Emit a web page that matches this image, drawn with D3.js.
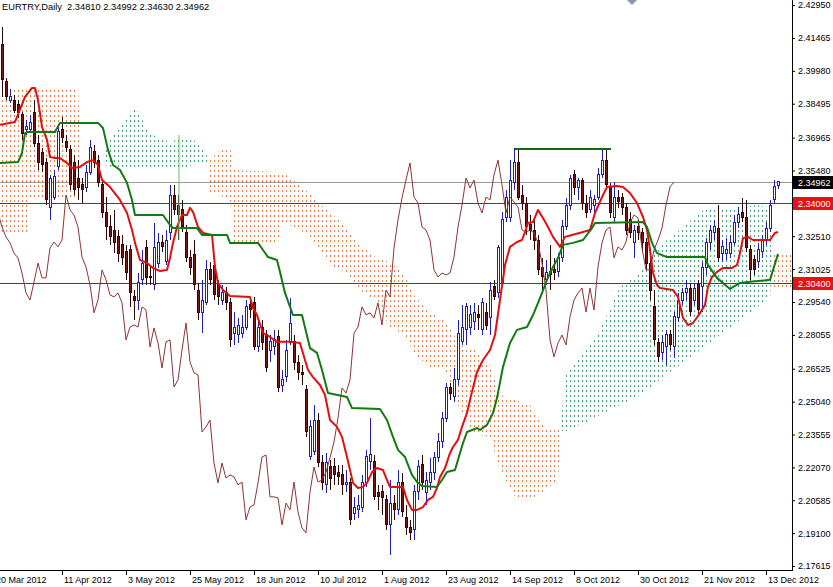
<!DOCTYPE html>
<html><head><meta charset="utf-8">
<script src="https://cdnjs.cloudflare.com/ajax/libs/d3/7.8.5/d3.min.js"></script>
<style>body{margin:0;background:#fff}svg{display:block}</style>
</head><body>
<svg id="c" width="833" height="587"></svg>
<script>
// ---- data (bar index 0 = 21 Mar 2012) ----
const open=[2.4137,2.4115,2.3948,2.3866,2.3866,2.3848,2.3799,2.3731,2.3731,2.3812,
2.3672,2.3627,2.3586,2.3383,2.3428,2.3564,2.3731,2.3677,2.3641,2.3586,
2.3514,2.3483,2.3469,2.3541,2.3632,2.3595,2.3483,2.3356,2.3293,2.3279,
2.3248,2.3212,2.3180,2.3189,2.2977,2.2963,2.3054,2.3198,2.3067,2.3031,
2.3130,2.3225,2.3135,2.3266,2.3437,2.3392,2.3370,2.3270,2.3157,2.3167,
2.3008,2.2905,2.2954,2.3099,2.3121,2.3031,2.2963,2.2995,2.2950,2.2814,
2.2805,2.2814,2.2841,2.2941,2.2954,2.2751,2.2837,2.2805,2.2737,2.2751,
2.2796,2.2579,2.2616,2.2769,2.2774,2.2683,2.2634,2.2557,2.2254,2.2277,
2.2421,2.2227,2.2128,2.2209,2.2209,2.2182,2.2173,2.2128,2.2137,2.2001,
2.2015,2.2028,2.2137,2.2232,2.2232,2.2092,2.2096,2.2060,2.1947,2.2046,
2.2015,2.2141,2.1979,2.1934,2.1925,2.2096,2.2218,2.2092,2.2141,2.2186,
2.2250,2.2322,2.2430,2.2566,2.2525,2.2602,2.2774,2.2828,2.2837,2.2864,
2.2896,2.2828,2.2905,2.2882,2.3022,2.2995,2.3040,2.3334,2.3334,2.3492,
2.3582,2.3437,2.3401,2.3302,2.3279,2.3234,2.3112,2.3054,2.3090,2.3099,
2.3090,2.3157,2.3293,2.3392,2.3528,2.3469,2.3505,2.3401,2.3370,2.3392,
2.3428,2.3528,2.3595,2.3469,2.3334,2.3428,2.3424,2.3379,2.3325,2.3221,
2.3293,2.3266,2.3225,2.3130,2.2932,2.2769,2.2724,2.2751,2.2805,2.2751,
2.2882,2.2963,2.2995,2.3017,2.2963,2.3031,2.3022,2.3112,2.3221,2.3266,
2.3284,2.3175,2.3175,2.3175,2.3225,2.3311,2.3356,2.3334,2.3189,2.3144,
2.3135,2.3180,2.3234,2.3288,2.3415,2.34810];
const high=[2.4160,2.4196,2.3966,2.3916,2.3889,2.3866,2.3812,2.3776,2.3799,2.3866,
2.3709,2.3650,2.3605,2.3528,2.3550,2.3745,2.3790,2.3709,2.3663,2.3618,
2.3595,2.3514,2.3573,2.3686,2.3663,2.3618,2.3505,2.3428,2.3347,2.3370,
2.3279,2.3257,2.3212,2.3212,2.3008,2.3085,2.3189,2.3234,2.3112,2.3311,
2.3266,2.3257,2.3279,2.3483,2.3483,2.3437,2.3415,2.3302,2.3189,2.3234,
2.3040,2.3054,2.3144,2.3135,2.3153,2.3054,2.3031,2.3022,2.2972,2.2909,
2.2882,2.2896,2.2963,2.2977,2.2977,2.2882,2.2873,2.2828,2.2805,2.2828,
2.2828,2.2647,2.2783,2.2972,2.2805,2.2715,2.2670,2.2579,2.2421,2.2489,
2.2453,2.2263,2.2272,2.2241,2.2250,2.2218,2.2218,2.2195,2.2159,2.2074,
2.2083,2.2173,2.2286,2.2430,2.2263,2.2128,2.2128,2.2083,2.2150,2.2083,
2.2195,2.2182,2.2037,2.1970,2.2128,2.2241,2.2263,2.2186,2.2250,2.2277,
2.2362,2.2457,2.2588,2.2588,2.2656,2.2873,2.2941,2.2950,2.2941,2.2950,
2.2941,2.2972,2.2950,2.3044,2.3054,2.3212,2.3361,2.3460,2.3595,2.3650,
2.3650,2.3483,2.3428,2.3347,2.3325,2.3257,2.3153,2.3144,2.3212,2.3153,
2.3175,2.3325,2.3424,2.3528,2.3550,2.3514,2.3514,2.3437,2.3460,2.3437,
2.3559,2.3650,2.3650,2.3492,2.3496,2.3460,2.3446,2.3401,2.3361,2.3302,
2.3325,2.3288,2.3243,2.3153,2.3008,2.2792,2.2805,2.2828,2.2828,2.2909,
2.2995,2.3017,2.3054,2.3040,2.3040,2.3054,2.3135,2.3243,2.3302,2.3325,
2.3392,2.3234,2.3243,2.3257,2.3347,2.3383,2.3424,2.3415,2.3212,2.3167,
2.3221,2.3257,2.3316,2.3415,2.3505,2.34992];
const low=[2.4092,2.3880,2.3866,2.3853,2.3808,2.3785,2.3686,2.3709,2.3717,2.3654,
2.3550,2.3541,2.3392,2.3325,2.3415,2.3550,2.3672,2.3632,2.3460,2.3437,
2.3415,2.3401,2.3451,2.3528,2.3559,2.3473,2.3334,2.3234,2.3212,2.3175,
2.3135,2.3121,2.3054,2.2932,2.2873,2.2918,2.3031,2.3031,2.3031,2.3008,
2.3108,2.3180,2.3121,2.3234,2.3347,2.3234,2.3270,2.3135,2.3076,2.3008,
2.2873,2.2815,2.2941,2.3031,2.2963,2.2941,2.2941,2.2918,2.2751,2.2760,
2.2769,2.2792,2.2828,2.2882,2.2737,2.2728,2.2737,2.2638,2.2683,2.2715,
2.2547,2.2547,2.2593,2.2760,2.2647,2.2602,2.2579,2.2345,2.2241,2.2263,
2.2209,2.2105,2.2092,2.2105,2.2128,2.2128,2.2083,2.2096,2.1947,2.1970,
2.1979,2.2006,2.2119,2.2195,2.2060,2.2015,2.1992,2.1925,2.1812,2.1970,
2.1992,2.1983,2.1902,2.1879,2.1879,2.2060,2.2105,2.2037,2.2105,2.2150,
2.2232,2.2295,2.2412,2.2512,2.2503,2.2579,2.2760,2.2760,2.2805,2.2828,
2.2828,2.2805,2.2828,2.2805,2.2963,2.2972,2.3031,2.3316,2.3316,2.3460,
2.3415,2.3370,2.3257,2.3234,2.3189,2.3076,2.3008,2.3031,2.3008,2.3054,
2.3067,2.3135,2.3279,2.3370,2.3437,2.3415,2.3370,2.3334,2.3356,2.3347,
2.3415,2.3514,2.3460,2.3334,2.3316,2.3379,2.3347,2.3257,2.3243,2.3153,
2.3234,2.3180,2.3099,2.2963,2.2760,2.2683,2.2692,2.2670,2.2737,2.2701,
2.2864,2.2941,2.2963,2.2891,2.2941,2.2896,2.2909,2.3076,2.3189,2.3234,
2.3135,2.3135,2.3144,2.3153,2.3212,2.3288,2.3316,2.3180,2.3054,2.3076,
2.3108,2.3153,2.3212,2.3270,2.3401,2.34630];
const close=[2.4115,2.3957,2.3880,2.3880,2.3821,2.3808,2.3717,2.3745,2.3763,2.3672,
2.3582,2.3573,2.3415,2.3514,2.3519,2.3722,2.3699,2.3654,2.3483,2.3460,
2.3469,2.3460,2.3541,2.3650,2.3582,2.3492,2.3356,2.3293,2.3248,2.3221,
2.3175,2.3153,2.3085,2.2995,2.2963,2.3044,2.3130,2.3063,2.3063,2.3198,
2.3225,2.3203,2.3234,2.3437,2.3370,2.3347,2.3293,2.3157,2.3112,2.3031,
2.2905,2.2963,2.3099,2.3054,2.2986,2.2977,2.2995,2.2950,2.2783,2.2841,
2.2850,2.2841,2.2932,2.2918,2.2751,2.2837,2.2769,2.2656,2.2774,2.2783,
2.2570,2.2602,2.2737,2.2859,2.2683,2.2634,2.2625,2.2367,2.2390,2.2421,
2.2227,2.2137,2.2227,2.2159,2.2173,2.2164,2.2128,2.2141,2.1970,2.2028,
2.2037,2.2137,2.2254,2.2263,2.2074,2.2074,2.2069,2.1947,2.2046,2.2015,
2.2141,2.2006,2.1934,2.1911,2.2096,2.2209,2.2141,2.2150,2.2186,2.2250,
2.2322,2.2430,2.2566,2.2543,2.2602,2.2814,2.2841,2.2932,2.2896,2.2905,
2.2882,2.2950,2.2850,2.3008,2.2977,2.3198,2.3325,2.3424,2.3505,2.3582,
2.3428,2.3401,2.3293,2.3279,2.3234,2.3099,2.3067,2.3085,2.3076,2.3085,
2.3157,2.3293,2.3392,2.3514,2.3469,2.3505,2.3401,2.3356,2.3428,2.3415,
2.3528,2.3595,2.3483,2.3356,2.3428,2.3406,2.3383,2.3279,2.3270,2.3279,
2.3266,2.3221,2.3130,2.3008,2.2783,2.2706,2.2769,2.2805,2.2760,2.2887,
2.2963,2.2995,2.3017,2.2909,2.3017,2.2918,2.3112,2.3221,2.3279,2.3293,
2.3153,2.3203,2.3189,2.3225,2.3311,2.3347,2.3334,2.3198,2.3099,2.3099,
2.3189,2.3234,2.3288,2.3392,2.3474,2.34962];

// Tenkan-sen (red) [bar index, price]
const tenkan=[[0.5,2.3754],[4.25,2.3767],[6.75,2.3880],[8.5,2.3921],[9.25,2.3921],[10,2.3866],[11,2.3745],[12.25,2.3686],[13,2.3609],[14.25,2.3604],[15.5,2.3604],[17.25,2.3582],[18.5,2.3559],[20.5,2.3564],[22.25,2.3586],[23.75,2.3595],[25,2.3573],[26,2.3505],[28,2.3473],[30.5,2.3415],[32.25,2.3356],[33.5,2.3279],[34.25,2.3221],[35.5,2.3144],[37.25,2.3130],[38.75,2.3108],[40.5,2.3094],[42.25,2.3099],[43,2.3153],[43.75,2.3221],[44.75,2.3293],[46,2.3347],[47.25,2.3347],[48,2.3379],[48.75,2.3361],[50,2.3293],[51.25,2.3266],[53.5,2.3257],[54.25,2.3112],[55,2.3040],[56.25,2.3008],[58,2.2981],[63,2.2977],[63.75,2.2927],[64.75,2.2895],[66.25,2.2814],[68,2.2796],[69.75,2.2774],[73,2.2774],[75.5,2.2769],[76.75,2.2692],[77.5,2.2647],[78.75,2.2615],[80.5,2.2579],[81.75,2.2534],[83,2.2421],[84.75,2.2390],[86,2.2345],[87.25,2.2254],[88,2.2195],[88.75,2.2137],[90,2.2114],[91.25,2.2119],[92.25,2.2137],[93.5,2.2186],[94.75,2.2204],[96.25,2.2195],[97.25,2.2150],[98,2.2119],[101.25,2.2119],[102.25,2.2060],[103.5,2.2015],[104.75,2.2015],[106.25,2.2028],[107.5,2.2060],[108.75,2.2074],[109.75,2.2114],[110.5,2.2164],[111.75,2.2204],[113,2.2272],[113.75,2.2299],[115,2.2331],[116,2.2390],[117.25,2.2453],[118,2.2512],[119.75,2.2638],[121.25,2.2692],[123,2.2737],[124.25,2.2805],[125.5,2.2963],[126.75,2.3121],[128,2.3203],[129.75,2.3225],[131,2.3234],[131.75,2.3270],[132.5,2.3311],[133.75,2.3315],[135,2.3370],[136.25,2.3333],[137.5,2.3293],[138.75,2.3248],[140.5,2.3203],[141.75,2.3248],[143.5,2.3257],[146.25,2.3270],[148,2.3279],[149.25,2.3356],[151,2.3428],[152.25,2.3473],[154.75,2.3478],[156.25,2.3473],[158,2.3446],[159.75,2.3401],[161.25,2.3338],[162.25,2.3279],[163,2.3189],[163.75,2.3085],[164.75,2.3031],[165.5,2.3017],[168.75,2.3008],[170,2.2977],[171.25,2.2882],[172.5,2.2850],[173.75,2.2859],[175.5,2.2904],[176.75,2.2941],[177.5,2.3022],[178.5,2.3067],[179.75,2.3090],[181.25,2.3108],[183.5,2.3108],[184.75,2.3121],[185.5,2.3175],[186.25,2.3243],[187.5,2.3248],[188.75,2.3234],[193,2.3234],[194.25,2.3266],[195,2.3270]];

// Kijun-sen (green) [bar index, price]
const kijun=[[0.5,2.3582],[5,2.3586],[6,2.3627],[6.75,2.3717],[7.5,2.3722],[14.25,2.3722],[15.5,2.3763],[25,2.3763],[26.25,2.3740],[27.5,2.3641],[28.75,2.3573],[30.5,2.3550],[32.25,2.3492],[33.5,2.3415],[34.25,2.3347],[41.25,2.3347],[43,2.3302],[43.75,2.3288],[49.75,2.3288],[51,2.3257],[57.25,2.3257],[58,2.3221],[65,2.3221],[66.25,2.3189],[67.5,2.3157],[69.75,2.3144],[70.5,2.3090],[71.75,2.2995],[73.75,2.2895],[76,2.2895],[78,2.2746],[79.75,2.2724],[81,2.2647],[82.5,2.2543],[87.25,2.2525],[88.5,2.2475],[95.5,2.2471],[97.25,2.2421],[98.75,2.2345],[100,2.2286],[101.75,2.2254],[102.5,2.2218],[103.5,2.2173],[104.75,2.2141],[106,2.2123],[109.75,2.2119],[111,2.2150],[112.25,2.2186],[114.25,2.2195],[115.5,2.2272],[116.25,2.2317],[117.25,2.2367],[119.75,2.2385],[120.5,2.2376],[122.25,2.2399],[123.75,2.2453],[124.75,2.2521],[126.25,2.2661],[128,2.2769],[129.75,2.2828],[132.25,2.2841],[133.75,2.2895],[135.5,2.2972],[137.25,2.3054],[138.75,2.3112],[140,2.3153],[141.25,2.3212],[143.75,2.3221],[146.25,2.3234],[148.5,2.3288],[149.25,2.3311],[161.25,2.3315],[162.25,2.3293],[163.5,2.3221],[164.75,2.3175],[167.25,2.3157],[176.75,2.3157],[177.5,2.3121],[179.75,2.3063],[183,2.3013],[185.5,2.3040],[188,2.3045],[193,2.3054],[195,2.3171]];

// Senkou spans (cloud), shifted forward
const cloudIdx=[0,7.25,7.75,20,20.75,26.5,27.25,28,29.25,31.25,33,34.25,35.5,36.75,38,39.75,41.25,43,44.25,45.5,47.25,48.75,50.5,52,52.5,53,55.5,58,59,70,71,75.5,78.75,83,86.75,90.5,94.25,98,101.75,104.25,108,111.75,115.5,119.25,123,125.5,129.25,133,136.75,140,140.75,141.5,145.5,150.5,155.5,160.5,163,168,170.5,176.25,185.5,190.5,193,193.5,194,199];
const spanA=[2.3270,2.3270,2.3415,2.3415,2.3641,2.3605,2.3663,2.3686,2.3722,2.3763,2.3812,2.3830,2.3808,2.3745,2.3717,2.3699,2.3695,2.3672,2.3686,2.3699,2.3699,2.3686,2.3672,2.3627,2.3595,2.3437,2.3437,2.3415,2.3221,2.3221,2.3315,2.3279,2.3234,2.3121,2.3090,2.3008,2.2963,2.2841,2.2805,2.2715,2.2661,2.2647,2.2466,2.2354,2.2345,2.2195,2.2074,2.2060,2.2105,2.2150,2.2376,2.2611,2.2715,2.2828,2.3022,2.3085,2.3166,2.3248,2.3279,2.3370,2.3383,2.3392,2.3370,2.3135,2.3008,2.3008];
const spanB=[2.3921,2.3912,2.3912,2.3912,2.3641,2.3605,2.3564,2.3564,2.3564,2.3564,2.3564,2.3564,2.3564,2.3564,2.3564,2.3564,2.3564,2.3564,2.3564,2.3564,2.3564,2.3573,2.3573,2.3582,2.3595,2.3595,2.3641,2.3654,2.3550,2.3541,2.3541,2.3483,2.3428,2.3356,2.3302,2.3212,2.3157,2.3135,2.3076,2.2977,2.2905,2.2873,2.2760,2.2737,2.2670,2.2534,2.2512,2.2489,2.2390,2.2390,2.2376,2.2367,2.2399,2.2444,2.2489,2.2534,2.2566,2.2638,2.2670,2.2746,2.2873,2.2941,2.2972,2.3135,2.3166,2.3166];

// axes
const priceTicks=[2.42950,2.41465,2.39980,2.38495,2.36965,2.35480,2.33995,2.32510,2.31025,2.29540,2.28055,2.26525,2.25040,2.23555,2.22070,2.20585,2.19100,2.17615];
const dateIdx=[-1,16,32,48,64,80,96,112,128,144,160,176,192];
const dateLabels=["20 Mar 2012","11 Apr 2012","3 May 2012","25 May 2012","18 Jun 2012","10 Jul 2012","1 Aug 2012","23 Aug 2012","14 Sep 2012","8 Oct 2012","30 Oct 2012","21 Nov 2012","13 Dec 2012"];

// objects
const bidPrice=2.34962;
const levels=[2.34000,2.30400];
const trendLine={from:129.25,to:153.25,price:2.3645};
const vLine={idx:45.25,top:2.3708,bottom:2.3234};
const marker={idx:158.5,price:2.4318};
const title="EURTRY,Daily  2.34810 2.34992 2.34630 2.34962";

// ---- drawing ----
const FONT="'Liberation Sans', Arial, sans-serif";
const PR=792, PB=570;
const svg=d3.select("#c");
const x=d3.scaleLinear().domain([0,198]).range([-2,790]);
const y=d3.scaleLinear().domain([2.17436,2.4318]).range([PB,0]);
const defs=svg.append("defs");
defs.append("clipPath").attr("id","plot").append("rect").attr("x",0).attr("y",0).attr("width",PR).attr("height",PB);
function pat(id,color){
  const p=defs.append("pattern").attr("id",id).attr("patternUnits","userSpaceOnUse").attr("width",4).attr("height",5);
  p.append("rect").attr("x",2).attr("y",0).attr("width",1).attr("height",2).attr("fill",color);
}
pat("pO","#e0804a"); pat("pG","#43a07a");
const cloud=cloudIdx.map((d,i)=>({i:d,a:spanA[i],b:spanB[i]}));
defs.append("clipPath").attr("id","cA").append("path").attr("d",d3.area().x(d=>x(d.i)).y0(0).y1(d=>y(d.a))(cloud));
defs.append("clipPath").attr("id","cB").append("path").attr("d",d3.area().x(d=>x(d.i)).y0(PB).y1(d=>y(d.a))(cloud));
const between=d3.area().x(d=>x(d.i)).y0(d=>y(d.a)).y1(d=>y(d.b));

const g=svg.append("g").attr("clip-path","url(#plot)");
g.append("g").attr("clip-path","url(#cA)").append("path").attr("d",between(cloud)).attr("fill","url(#pO)");
g.append("g").attr("clip-path","url(#cB)").append("path").attr("d",between(cloud)).attr("fill","url(#pG)");

// horizontal level lines
const lg=g.append("g").attr("shape-rendering","crispEdges");
lg.append("line").attr("x1",0).attr("x2",PR).attr("y1",Math.round(y(bidPrice))+0.5).attr("y2",Math.round(y(bidPrice))+0.5).attr("stroke","#999999").attr("stroke-width",1);
lg.selectAll("line.lvl").data(levels).join("line").attr("class","lvl").attr("x1",0).attr("x2",PR)
 .attr("y1",d=>Math.round(y(d))+0.5).attr("y2",d=>Math.round(y(d))+0.5).attr("stroke","#e00000").attr("stroke-width",1);

// candles
const BULL="#1e1eb8", BEAR="#7a1818", BEARL="#2a0808";
const bars=close.map((c,i)=>({i,o:open[i],h:high[i],l:low[i],c}));
const cg=g.append("g").attr("shape-rendering","crispEdges");
cg.selectAll("line").data(bars).join("line")
 .attr("x1",d=>x(d.i)+0.5).attr("x2",d=>x(d.i)+0.5).attr("y1",d=>y(d.h)).attr("y2",d=>y(d.l))
 .attr("stroke",d=>d.c>=d.o?BULL:BEARL).attr("stroke-width",1);
cg.selectAll("rect").data(bars).join("rect")
 .attr("x",d=>x(d.i)-0.5).attr("width",2)
 .attr("y",d=>y(Math.max(d.o,d.c))).attr("height",d=>Math.max(0.6,Math.abs(y(d.o)-y(d.c))))
 .attr("fill",d=>d.c>=d.o?"#ffffff":BEAR).attr("stroke",d=>d.c>=d.o?BULL:BEARL).attr("stroke-width",1);

// chikou (close shifted back 26)
const line=d3.line().x(d=>x(d[0])).y(d=>y(d[1]));
g.append("path").attr("d",line(close.map((c,i)=>[i-26,c]).filter(d=>d[0]>=-1)))
 .attr("fill","none").attr("stroke","#8b3535").attr("stroke-width",1);
g.append("path").attr("d",line(tenkan)).attr("fill","none").attr("stroke","#e01010").attr("stroke-width",2).attr("stroke-linejoin","round");
g.append("path").attr("d",line(kijun)).attr("fill","none").attr("stroke","#127a12").attr("stroke-width",2).attr("stroke-linejoin","round");

// objects
g.append("line").attr("x1",x(trendLine.from)).attr("x2",x(trendLine.to)).attr("y1",y(trendLine.price)).attr("y2",y(trendLine.price))
 .attr("stroke","#0d6b0d").attr("stroke-width",2);
g.append("line").attr("x1",x(vLine.idx)).attr("x2",x(vLine.idx)).attr("y1",y(vLine.top)).attr("y2",y(vLine.bottom))
 .attr("stroke","#5cc65c").attr("stroke-width",1);
const mx=x(marker.idx), my=y(marker.price);
g.append("path").attr("d",`M${mx-5},${my}L${mx},${my-5}L${mx+5},${my}L${mx},${my+5}Z`).attr("fill","#8797aa");

// axes
const ax=svg.append("g").attr("transform",`translate(${PR},0)`)
 .call(d3.axisRight(y).tickValues(priceTicks).tickSize(3).tickFormat(d=>d.toFixed(5)));
ax.select(".domain").remove();
ax.selectAll("text").attr("x",6).attr("font-family",FONT).attr("font-size",9).attr("fill","#000");
ax.selectAll("line").attr("stroke","#000");
const bx=svg.append("g").attr("transform",`translate(0,${PB})`)
 .call(d3.axisBottom(x).tickValues(dateIdx).tickSize(5).tickFormat((d,i)=>dateLabels[i]));
bx.select(".domain").remove();
bx.selectAll("text").attr("text-anchor","start").attr("x",1.5).attr("y",7).attr("font-family",FONT).attr("font-size",9).attr("fill","#000");
bx.selectAll("line").attr("stroke","#000");
svg.append("line").attr("x1",PR+0.5).attr("x2",PR+0.5).attr("y1",0).attr("y2",PB+1).attr("stroke","#000");
svg.append("line").attr("x1",0).attr("x2",PR+1).attr("y1",PB+0.5).attr("y2",PB+0.5).attr("stroke","#000");

// price labels on axis
const tags=[{p:levels[0],fill:"#e81212"},{p:levels[1],fill:"#e81212"},{p:bidPrice,fill:"#000"}];
tags.forEach(t=>{
  const yy=Math.round(y(t.p));
  svg.append("rect").attr("x",PR+1).attr("y",yy-6).attr("width",833-PR-1).attr("height",13).attr("fill",t.fill);
  svg.append("text").attr("x",PR+6).attr("y",yy+3.5).attr("font-family",FONT).attr("font-size",9).attr("fill","#fff").text(t.p.toFixed(5));
});

svg.append("text").attr("x",2).attr("y",10).attr("font-family",FONT).attr("font-size",9.3).attr("fill","#000").attr("xml:space","preserve").style("white-space","pre").text(title);
</script>
</body></html>
